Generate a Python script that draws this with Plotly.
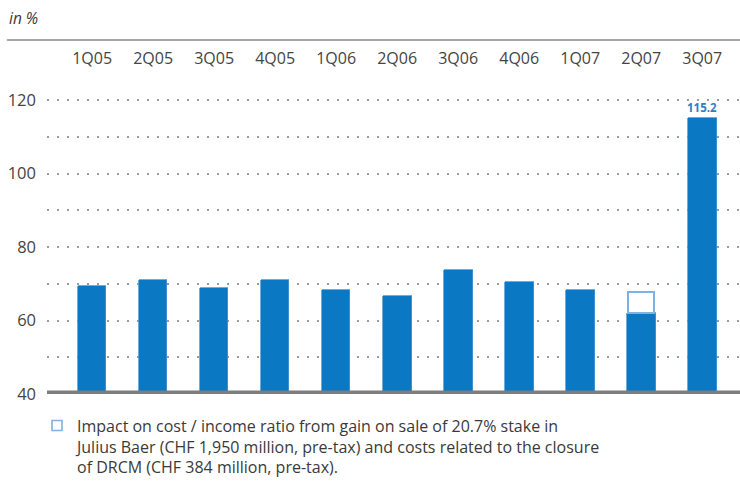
import plotly.graph_objects as go

# Quarterly cost / income ratio, in %
quarters = ["1Q05", "2Q05", "3Q05", "4Q05", "1Q06", "2Q06",
            "3Q06", "4Q06", "1Q07", "2Q07", "3Q07"]
ratio = [69.4, 71.0, 68.8, 71.0, 68.3, 66.7, 73.7, 70.5, 68.3, 62.0, 115.2]
# Impact of the Julius Baer stake sale / DRCM closure (stacked on top of 2Q07)
impact = [None, None, None, None, None, None, None, None, None, 5.8, None]
y_ticks = [40, 60, 80, 100, 120]

BLUE = "#0a78c2"
LIGHT_BLUE = "#7fb2e0"
TEXT = "#3a3a3a"
FONT = "Open Sans"

legend_text = ("Impact on cost / income ratio from gain on sale of 20.7% stake in<br>"
               "Julius Baer (CHF 1,950 million, pre-tax) and costs related to the closure<br>"
               "of DRCM (CHF 384 million, pre-tax).")

TOP = 68           # top margin, px
PLOT_H = 485 - 91 - TOP

fig = go.Figure()
fig.add_bar(
    x=quarters, y=ratio, width=0.47,
    marker=dict(color=BLUE, line=dict(color="#4a97d4", width=0.8)),
    showlegend=False, hoverinfo="x+y",
)
fig.add_bar(
    x=quarters, y=impact, width=0.42,
    marker=dict(color="white", line=dict(color=LIGHT_BLUE, width=2)),
    name="Impact", showlegend=False,
)
# legend key: small open square
fig.add_scatter(
    x=[None], y=[None], mode="markers", name=legend_text,
    marker=dict(symbol="square-open", size=10, color=LIGHT_BLUE,
                line=dict(width=1.6, color=LIGHT_BLUE)),
)

# value label on the last quarter
fig.add_annotation(
    x=quarters[-1], y=ratio[-1], text=f"<b>{ratio[-1]:.1f}</b>",
    showarrow=False, yanchor="bottom", yshift=1,
    font=dict(family=FONT, size=11.5, color="#2d7fc4"),
)

# "in %" unit caption and the rule under it
fig.add_annotation(
    xref="paper", yref="paper", x=-0.058, y=1, yshift=TOP - 18,
    xanchor="left", yanchor="middle", showarrow=False,
    text="<i>in %</i>", font=dict(family=FONT, size=15.5, color=TEXT),
)
fig.add_shape(
    type="line", xref="paper", yref="paper", x0=-0.058, x1=1,
    y0=1 + (TOP - 40) / PLOT_H, y1=1 + (TOP - 40) / PLOT_H,
    line=dict(color="#8a8a8a", width=1.5), layer="above",
)

fig.update_layout(
    width=740, height=485,
    margin=dict(l=47, r=0, t=TOP, b=91, autoexpand=False),
    paper_bgcolor="white", plot_bgcolor="white",
    barmode="stack", bargap=0,
    font=dict(family=FONT, size=14, color=TEXT),
    legend=dict(
        x=-10 / 693, y=-0.045, xanchor="left", yanchor="top", valign="top",
        font=dict(family=FONT, size=16, color=TEXT),
        bgcolor="rgba(0,0,0,0)", tracegroupgap=0,
    ),
    xaxis=dict(
        type="category", side="top", range=[-0.74, 10.62],
        showgrid=False, zeroline=False, showline=False, ticks="",
        tickfont=dict(family=FONT, size=16, color="#444"),
        fixedrange=True,
    ),
    yaxis=dict(
        range=[40, 40 + PLOT_H / 3.675], tickvals=y_ticks,
        showgrid=True, gridcolor="#9a9a9a", gridwidth=2, griddash="2px,8px",
        minor=dict(dtick=10, tick0=0, showgrid=True, gridcolor="#9a9a9a",
                   gridwidth=2, griddash="2px,8px"),
        zeroline=False, showline=False, ticks="",
        ticklabelstandoff=10,
        tickfont=dict(family=FONT, size=16.5, color="#444"),
        fixedrange=True,
    ),
)

# heavy baseline at the bottom of the value axis
fig.add_shape(
    type="line", xref="paper", yref="y", x0=0, x1=1, y0=y_ticks[0], y1=y_ticks[0],
    line=dict(color="#7d7d7d", width=7), layer="above",
)

fig.write_html("out.html")
